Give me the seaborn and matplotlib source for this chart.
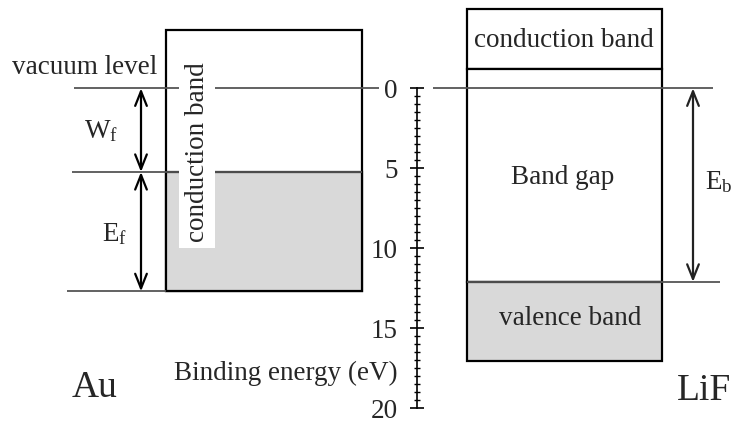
import matplotlib
matplotlib.use('Agg')
import matplotlib.pyplot as plt
import seaborn as sns
import numpy as np
from matplotlib.ticker import FixedLocator

# energy levels in eV (binding energy, 0 = vacuum level, positive downwards)
au_box = [-3.67, 12.69]          # top, bottom of Au conduction band box
au_fermi = 5.23                  # Fermi level
lif_cb = [-4.98, -1.23]          # LiF conduction band (top, bottom)
lif_gap = [-1.23, 12.1]          # band gap
lif_vb = [12.1, 17.04]           # valence band
vacuum = 0.0
tick_values = [0, 5, 10, 15, 20]

# horizontal positions (pixel-like units across the figure)
au_x = [166, 362]
lif_x = [467, 662]
axis_x = 417

sns.set_theme(style='white')
plt.rcParams['font.family'] = ['Liberation Serif', 'DejaVu Serif']
plt.rcParams['mathtext.fontset'] = 'custom'
plt.rcParams['mathtext.rm'] = 'Liberation Serif'
plt.rcParams['mathtext.it'] = 'Liberation Serif'

fs = 19.5
fig = plt.figure(figsize=(7.33, 4.23), dpi=100)
ax = fig.add_axes([0, 0, 1, 1])
ax.set_xlim(0, 733)
ax.set_ylim(20.92, -5.52)

# boxes
def box(x, y, fill):
    ax.bar((x[0] + x[1]) / 2, y[1] - y[0], bottom=y[0], width=x[1] - x[0],
           color=fill, edgecolor='black', linewidth=1.6, zorder=2)

box(au_x, au_box, 'white')
box(au_x, [au_fermi, au_box[1]], '#d9d9d9')
box(lif_x, lif_cb, 'white')
box(lif_x, lif_gap, 'white')
box(lif_x, lif_vb, '#d9d9d9')

# level lines
lc = '#555555'
ax.hlines(vacuum, 74, 379, color=lc, lw=1.3, zorder=3)
ax.hlines(vacuum, 433, 713, color=lc, lw=1.3, zorder=3)
ax.hlines(au_fermi, 72, au_x[1], color=lc, lw=1.3, zorder=3)
ax.hlines(au_box[1], 67, au_x[0], color=lc, lw=1.3, zorder=3)
ax.hlines(lif_vb[0], lif_x[0], 720, color=lc, lw=1.3, zorder=3)

# arrows
def arrow(x, y0, y1, color='black'):
    ax.annotate('', xy=(x, y0), xytext=(x, y1),
                arrowprops=dict(arrowstyle='<->,head_length=0.7,head_width=0.28',
                                color=color, lw=1.6, shrinkA=0, shrinkB=0,
                                mutation_scale=15), zorder=4)

arrow(141, vacuum, au_fermi)
arrow(141, au_fermi, au_box[1])
arrow(693, vacuum, lif_vb[0], color='#222222')

# labels
ax.text(12, -1.33, 'vacuum level', fontsize=fs, ha='left', va='center')
ax.text(84, 2.7, r'W$_\mathrm{f}$', fontsize=fs, ha='left', va='center')
ax.text(102, 9.1, r'E$_\mathrm{f}$', fontsize=fs, ha='left', va='center')
ax.text(705, 5.85, r'E$_\mathrm{b}$', fontsize=fs, ha='left', va='center')
ax.text(197, 4.0, 'conduction band', fontsize=fs, rotation=90, ha='center', va='center',
        zorder=5, bbox=dict(boxstyle='square,pad=0.22', fc='white', ec='none'))
ax.text(564, -3.0, 'conduction band', fontsize=fs, ha='center', va='center', zorder=5)
ax.text(563, 5.6, 'Band gap', fontsize=fs, ha='center', va='center', zorder=5)
ax.text(570, 14.4, 'valence band', fontsize=fs, ha='center', va='center', zorder=5)
ax.text(398, 17.8, 'Binding energy (eV)', fontsize=fs, ha='right', va='center')
ax.text(72, 18.7, 'Au', fontsize=27, ha='left', va='center')
ax.text(677, 18.9, 'LiF', fontsize=27, ha='left', va='center')

# energy axis
for s in ['top', 'right', 'bottom']:
    ax.spines[s].set_visible(False)
ax.spines['left'].set_position(('data', axis_x))
ax.spines['left'].set_bounds(0, 20)
ax.spines['left'].set_linewidth(1.2)
ax.spines['left'].set_color('black')
ax.set_xticks([])
ax.set_yticks(tick_values)
ax.yaxis.set_minor_locator(FixedLocator(np.arange(0, 20.01, 0.5)))
ax.tick_params(axis='y', which='major', direction='inout', length=9.5, width=1.2,
               pad=9, labelsize=fs, left=True, color='black')
ax.tick_params(axis='y', which='minor', direction='inout', length=5, width=1.0,
               left=True, color='black')
ax.set_facecolor('white')

fig.savefig('out.png', dpi=100)
